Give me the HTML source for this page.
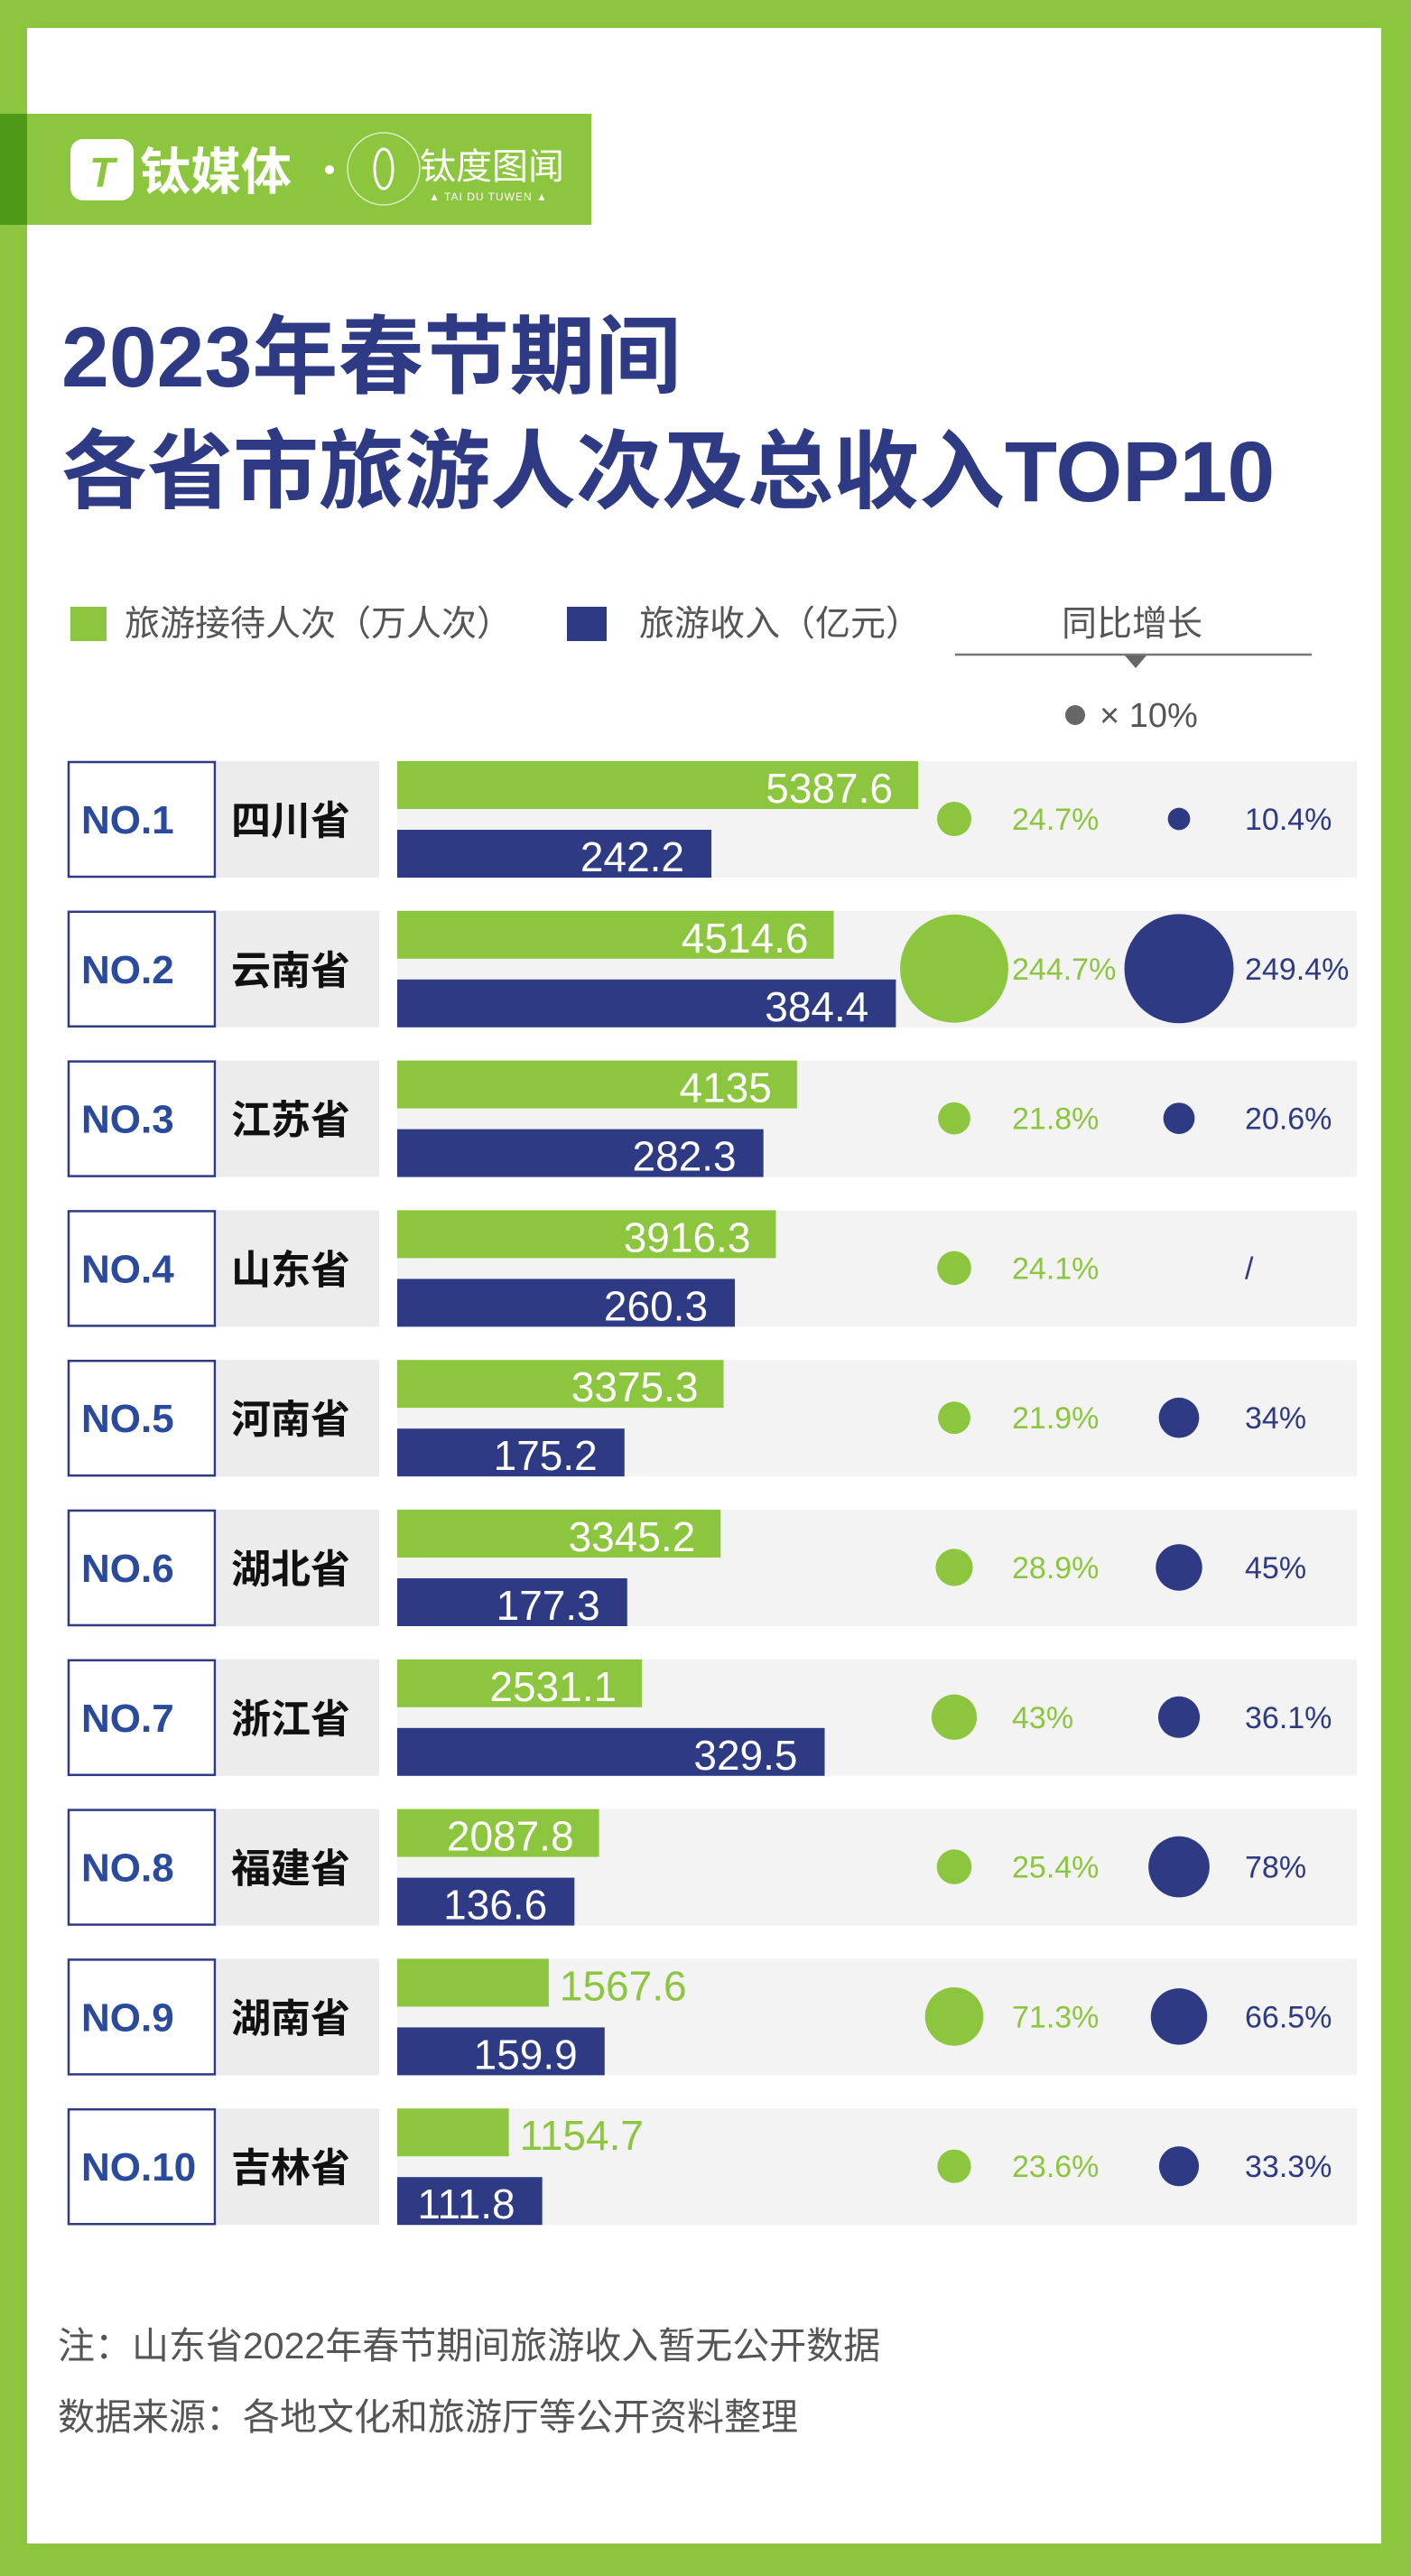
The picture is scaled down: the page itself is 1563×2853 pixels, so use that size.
<!DOCTYPE html>
<html><head><meta charset="utf-8">
<style>
html,body{margin:0;padding:0;background:#8cc63f;}
svg{display:block;}
text{font-family:"Liberation Sans","Noto Sans CJK SC",sans-serif;}
</style></head>
<body>
<svg id="chart" width="1563" height="2853" viewBox="0 0 1563 2853" xmlns="http://www.w3.org/2000/svg">
  <rect x="0" y="0" width="1563" height="2853" fill="#8cc63f"/>
  <rect x="30" y="31" width="1500" height="2786" fill="#ffffff"/>
  <g>
    <rect x="0" y="126" width="655" height="123" fill="#8cc63f"/>
    <rect x="0" y="126" width="30" height="123" fill="#4e9a16"/>
    <rect x="78" y="154" width="70" height="68" rx="14" fill="#ffffff"/>
    <text x="113" y="207" font-size="46" font-weight="bold" font-style="italic" fill="#8cc63f" text-anchor="middle">T</text>
    <text x="155" y="210" font-size="56" font-weight="bold" fill="#ffffff">钛媒体</text>
    <circle cx="365" cy="188" r="5" fill="#ffffff"/>
    <circle cx="425" cy="187" r="40" fill="none" stroke="#d9eec0" stroke-width="1.5"/>
    <ellipse cx="425" cy="187" rx="10" ry="22" fill="none" stroke="#ffffff" stroke-width="3"/>
    <text x="465" y="198" font-size="40" fill="#ffffff">钛度图闻</text>
    <text x="541" y="222" font-size="12" fill="#ffffff" text-anchor="middle" letter-spacing="1">▲ TAI DU TUWEN ▲</text>
  </g>
  <text x="68" y="428" font-size="95" font-weight="bold" fill="#2e3b84">2023年春节期间</text>
  <text x="68" y="555" font-size="95" font-weight="bold" fill="#2e3b84">各省市旅游人次及总收入TOP10</text>

  <g>
    <rect x="78" y="672" width="40" height="38" fill="#8cc63f"/>
    <text x="138" y="704" font-size="39" fill="#555555">旅游接待人次（万人次）</text>
    <rect x="628" y="672" width="44" height="38" fill="#2e3b84"/>
    <text x="708" y="704" font-size="39" fill="#555555">旅游收入（亿元）</text>
    <text x="1254" y="704" font-size="39" fill="#555555" text-anchor="middle">同比增长</text>
    <line x1="1058" y1="725" x2="1453" y2="725" stroke="#777777" stroke-width="2.5"/>
    <polygon points="1246,726 1270,726 1258,740" fill="#666666"/>
    <circle cx="1191" cy="792" r="11" fill="#666666"/>
    <text x="1218" y="805" font-size="38" fill="#555555">× 10%</text>
  </g>

  <g id="rows"></g>

  <text x="64" y="2612" font-size="41" fill="#555555">注：山东省2022年春节期间旅游收入暂无公开数据</text>
  <text x="64" y="2691" font-size="41" fill="#555555">数据来源：各地文化和旅游厅等公开资料整理</text>
</svg>
<script>
const provinces = ["四川省","云南省","江苏省","山东省","河南省","湖北省","浙江省","福建省","湖南省","吉林省"];
const visitors = [5387.6, 4514.6, 4135, 3916.3, 3375.3, 3345.2, 2531.1, 2087.8, 1567.6, 1154.7];
const revenue = [242.2, 384.4, 282.3, 260.3, 175.2, 177.3, 329.5, 136.6, 159.9, 111.8];
const visitorsGrowth = [24.7, 244.7, 21.8, 24.1, 21.9, 28.9, 43, 25.4, 71.3, 23.6];
const revenueGrowth = [10.4, 249.4, 20.6, null, 34, 45, 36.1, 78, 66.5, 33.3];
const visitorsLabels = ["5387.6","4514.6","4135","3916.3","3375.3","3345.2","2531.1","2087.8","1567.6","1154.7"];
const revenueLabels = ["242.2","384.4","282.3","260.3","175.2","177.3","329.5","136.6","159.9","111.8"];
const visitorsGrowthLabels = ["24.7%","244.7%","21.8%","24.1%","21.9%","28.9%","43%","25.4%","71.3%","23.6%"];
const revenueGrowthLabels = ["10.4%","249.4%","20.6%","/","34%","45%","36.1%","78%","66.5%","33.3%"];

const NS = "http://www.w3.org/2000/svg";
const GREEN = "#8cc63f", BLUE = "#2e3b84";
const BAR_X = 440;
function xVisitors(v){ return v * 0.1071; }
function xRevenue(v){ return v * 1.437; }
function rBubble(v){ return 3.83 * Math.sqrt(v); }
function rowTop(i){ return 843 + i * 165.8; }
function mk(tag, attrs, parent){
  const e = document.createElementNS(NS, tag);
  for (const k in attrs) e.setAttribute(k, attrs[k]);
  parent.appendChild(e);
  return e;
}
const root = document.getElementById("rows");
provinces.forEach((p, i) => {
  const y = rowTop(i);
  const g = mk("g", {}, root);
  
  
  mk("rect", {x:440, y:y, width:1063, height:129, fill:"#f3f3f3"}, g);
  mk("rect", {x:240, y:y, width:180, height:129, fill:"#ececec"}, g);
  const box = mk("rect", {x:76, y:y+1, width:162, height:127, fill:"#ffffff", stroke:BLUE, "stroke-width":2.5}, g);
  
  
  const rk = mk("text", {x:90, y:y+80, "font-size":44, "font-weight":"bold", fill:"#2a4a9e"}, g);
  rk.textContent = "NO." + (i + 1);
  
  
  const nm = mk("text", {x:256, y:y+81, "font-size":44, "font-weight":"bold", fill:"#111111"}, g);
  nm.textContent = p;
  
  

  const gw = xVisitors(visitors[i]);
  const gb = mk("rect", {x:BAR_X, y:y, width:gw, height:53, fill:GREEN}, g);
  
  
  let gl;
  if (gw > 200) gl = mk("text", {x:BAR_X + gw - 28, y:y+46, "font-size":46, fill:"#ffffff", "text-anchor":"end"}, g);
  else gl = mk("text", {x:BAR_X + gw + 12, y:y+46, "font-size":46, fill:GREEN}, g);
  gl.textContent = visitorsLabels[i];
  
  

  const bw = xRevenue(revenue[i]);
  const bb = mk("rect", {x:BAR_X, y:y+76, width:bw, height:53, fill:BLUE}, g);
  
  
  const bl = mk("text", {x:BAR_X + bw - 30, y:y+122, "font-size":46, fill:"#ffffff", "text-anchor":"end"}, g);
  bl.textContent = revenueLabels[i];
  
  

  const cy = y + 64;
  const gc = mk("circle", {cx:1057, cy:cy, r:rBubble(visitorsGrowth[i]), fill:GREEN}, g);
  
  
  const gt = mk("text", {x:1121, y:cy+12, "font-size":34, fill:GREEN}, g);
  gt.textContent = visitorsGrowthLabels[i];
  
  
  if (revenueGrowth[i] !== null) {
    const bc = mk("circle", {cx:1306, cy:cy, r:rBubble(revenueGrowth[i]), fill:BLUE}, g);
    
    
  }
  const bt = mk("text", {x:1379, y:cy+12, "font-size":34, fill:BLUE}, g);
  bt.textContent = revenueGrowthLabels[i];
  
  
});
</script>
</body></html>
